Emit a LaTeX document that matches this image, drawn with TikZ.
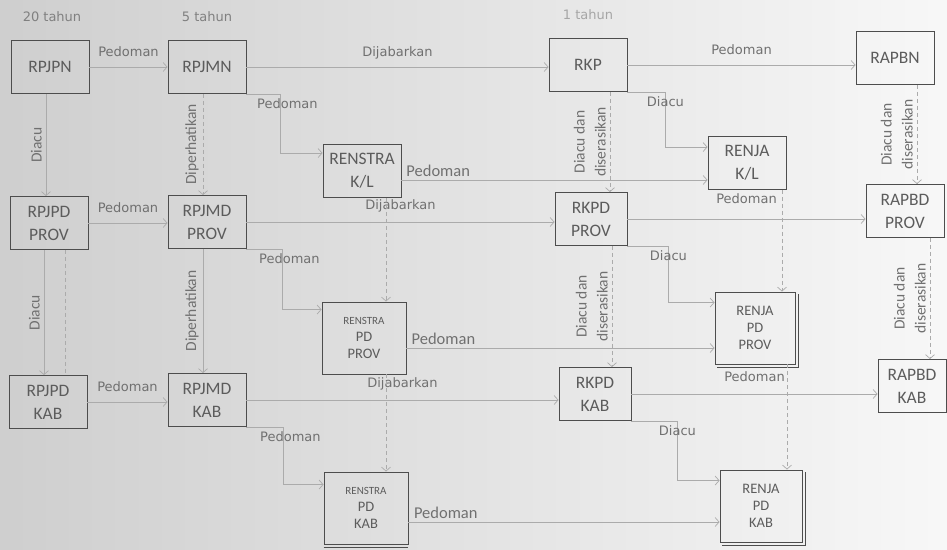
\documentclass[tikz,border=0pt]{standalone}
\usepackage{fontspec}
\setmainfont{Carlito}
\newfontfamily\lblfont{DejaVu Sans}
\usetikzlibrary{arrows.meta}

\definecolor{boxgray}{HTML}{4D4D4D}
\definecolor{txtgray}{HTML}{5C5C5C}
\definecolor{linegray}{HTML}{ABABAB}
\definecolor{lblgray}{HTML}{707070}

\tikzset{
    box/.style={draw=boxgray, line width=0.9pt, text=txtgray, align=center,
        minimum width=78pt, minimum height=53pt, inner sep=2pt,
        font=\fontsize{17.5}{23}\selectfont},
    bigbox/.style={box, minimum width=84pt, minimum height=72pt,
        font=\fontsize{14.5}{17}\selectfont},
    conn/.style={draw=linegray, line width=0.7pt},
    arr/.style={conn, -{Straight Barb[length=4pt,width=9pt]}},
    dsh/.style={dash pattern=on 4pt off 3pt},
    lbl/.style={text=lblgray, font=\lblfont\fontsize{13}{15}\selectfont},
    hl/.style={lbl, midway, anchor=base, yshift=#1},
    hl/.default=11pt,
    el/.style={lbl, anchor=base, yshift=-15pt},
    bl/.style={text=lblgray, pos=0.12, anchor=base, yshift=4pt,
        font=\fontsize{16.5}{18}\selectfont},
    vl/.style={text=lblgray, midway, rotate=90, anchor=south, align=center,
        inner sep=4pt, font=\fontsize{15.5}{21}\selectfont},
}

\begin{document}
\begin{tikzpicture}[x=1pt, y=1pt]
    % page background
    \shade[left color=black!19, right color=black!3] (0,0) rectangle (947,-549);
    \useasboundingbox (0,0) rectangle (947,-549);

    % period headings
    \node[lbl, text=black!50] at (52,-17) {20 tahun};
    \node[lbl, text=black!50] at (207,-17) {5 tahun};
    \node[lbl, text=black!35] at (588,-15) {1 tahun};

    % national level
    \node[box] (rpjpn) at (50,-67) {RPJPN};
    \node[box] (rpjmn) at (207,-67) {RPJMN};
    \node[box] (renstrakl) at (362,-171) {RENSTRA\\K/L};
    \node[box] (rkp) at (588,-65) {RKP};
    \node[box] (renjakl) at (747,-163) {RENJA\\K/L};
    \node[box] (rapbn) at (895,-58) {RAPBN};

    % province level
    \node[box] (rpjpdprov) at (49,-223) {RPJPD\\PROV};
    \node[box] (rpjmdprov) at (207,-222) {RPJMD\\PROV};
    \node[bigbox] (renstrapdprov) at (364,-338) {{\fontsize{11}{13}\selectfont RENSTRA}\\PD\\PROV};
    \node[box, minimum width=72pt] (rkpdprov) at (591,-219) {RKPD\\PROV};
    \node[bigbox, minimum width=80pt] (renjapdprov) at (755,-328) {RENJA\\PD\\PROV};
    \node[box] (rapbdprov) at (905,-211) {RAPBD\\PROV};

    % regency level
    \node[box] (rpjpdkab) at (48,-402) {RPJPD\\KAB};
    \node[box] (rpjmdkab) at (207,-400) {RPJMD\\KAB};
    \node[bigbox] (renstrapdkab) at (366,-508) {{\fontsize{11}{13}\selectfont RENSTRA}\\PD\\KAB};
    \node[box, minimum width=72pt] (rkpdkab) at (595,-394) {RKPD\\KAB};
    \node[bigbox, minimum width=82pt] (renjapdkab) at (761,-506) {RENJA\\PD\\KAB};
    \node[box, minimum width=68pt] (rapbdkab) at (912,-386) {RAPBD\\KAB};

    % stacked sheets behind some boxes
    \draw[boxgray, line width=0.9pt] ([shift={(2.5pt,-2.5pt)}]renjapdprov.north east) |- ([shift={(2.5pt,-2.5pt)}]renjapdprov.south west);
    \draw[boxgray, line width=0.9pt] ([shift={(2.5pt,-2.5pt)}]renjapdkab.north east) |- ([shift={(2.5pt,-2.5pt)}]renjapdkab.south west);
    \draw[boxgray, line width=0.9pt] ([yshift=-3pt]renstrapdkab.south west) -- ([yshift=-3pt]renstrapdkab.south east);

    % horizontal links, national
    \draw[arr] (rpjpn.east) -- (rpjpn.east -| rpjmn.west) node[hl] {Pedoman};
    \draw[arr] (rpjmn.east) -- (rpjmn.east -| rkp.west) node[hl] {Dijabarkan};
    \draw[arr] (rkp.east) -- (rkp.east -| rapbn.west) node[hl] {Pedoman};
    \draw[arr] (rpjmn.south east) -- ++(34,0) node[el, xshift=7pt] {Pedoman} |- ([yshift=-9pt]renstrakl.north west);
    \draw[arr] (rkp.south east) -- ++(38,0) node[el] {Diacu} |- ([yshift=-11pt]renjakl.north west);
    \draw[arr] ([yshift=-9pt]renstrakl.east) -- ([yshift=-9pt]renstrakl.east -| renjakl.west) node[bl] {Pedoman};

    % horizontal links, province
    \draw[arr] (rpjpdprov.east) -- (rpjpdprov.east -| rpjmdprov.west) node[hl] {Pedoman};
    \draw[arr] (rpjmdprov.east) -- (rpjmdprov.east -| rkpdprov.west) node[hl=13pt] {Dijabarkan};
    \draw[arr] (rkpdprov.east) -- (rkpdprov.east -| rapbdprov.west) node[hl=16pt] {Pedoman};
    \draw[arr] (rpjmdprov.south east) -- ++(36,0) node[el, xshift=7pt] {Pedoman} |- ([yshift=-8pt]renstrapdprov.north west);
    \draw[arr] (rkpdprov.south east) -- ++(41,0) node[el] {Diacu} |- ([yshift=-11pt]renjapdprov.north west);
    \draw[arr] ([yshift=-10pt]renstrapdprov.east) -- ([yshift=-10pt]renstrapdprov.east -| renjapdprov.west) node[bl] {Pedoman};

    % horizontal links, regency
    \draw[arr] (rpjpdkab.east) -- (rpjpdkab.east -| rpjmdkab.west) node[hl] {Pedoman};
    \draw[arr] (rpjmdkab.east) -- (rpjmdkab.east -| rkpdkab.west) node[hl=13pt] {Dijabarkan};
    \draw[arr] (rkpdkab.east) -- (rkpdkab.east -| rapbdkab.west) node[hl=13pt] {Pedoman};
    \draw[arr] (rpjmdkab.south east) -- ++(37,0) node[el, xshift=7pt] {Pedoman} |- ([yshift=-13pt]renstrapdkab.north west);
    \draw[arr] (rkpdkab.south east) -- ++(46,0) node[el] {Diacu} |- ([yshift=-11pt]renjapdkab.north west);
    \draw[arr] ([yshift=-14pt]renstrapdkab.east) -- ([yshift=-14pt]renstrapdkab.east -| renjapdkab.west) node[bl] {Pedoman};

    % vertical links, 20 and 5 years
    \draw[arr] ([xshift=-4pt]rpjpn.south) -- ([xshift=-4pt]rpjpn.south |- rpjpdprov.north) node[vl] {Diacu};
    \draw[arr] ([xshift=-5pt]rpjpdprov.south) -- ([xshift=-5pt]rpjpdprov.south |- rpjpdkab.north) node[vl] {Diacu};
    \draw[conn, dsh] ([xshift=16pt]rpjpdprov.south) -- ([xshift=16pt]rpjpdprov.south |- rpjpdkab.north);
    \draw[arr, dsh] ([xshift=-4pt]rpjmn.south) -- ([xshift=-4pt]rpjmn.south |- rpjmdprov.north) node[vl] {Diperhatikan};
    \draw[arr] ([xshift=-4pt]rpjmdprov.south) -- ([xshift=-4pt]rpjmdprov.south |- rpjmdkab.north) node[vl] {Diperhatikan};
    \draw[arr, dsh] ([xshift=24pt]renstrakl.south) -- ([xshift=24pt]renstrakl.south |- renstrapdprov.north);
    \draw[arr, dsh] ([xshift=22pt]renstrapdprov.south) -- ([xshift=22pt]renstrapdprov.south |- renstrapdkab.north);

    % vertical links, 1 year
    \draw[arr, dsh] ([xshift=22pt]rkp.south) -- ([xshift=22pt]rkp.south |- rkpdprov.north) node[vl] {Diacu dan\\diserasikan};
    \draw[arr, dsh] ([xshift=21pt]rkpdprov.south) -- ([xshift=21pt]rkpdprov.south |- rkpdkab.north) node[vl] {Diacu dan\\diserasikan};
    \draw[arr, dsh] ([xshift=35pt]renjakl.south) -- ([xshift=35pt]renjakl.south |- renjapdprov.north);
    \draw[arr, dsh] ([xshift=32pt]renjapdprov.south) -- ([xshift=32pt]renjapdprov.south |- renjapdkab.north);
    \draw[arr, dsh] ([xshift=22pt]rapbn.south) -- ([xshift=22pt]rapbn.south |- rapbdprov.north) node[vl] {Diacu dan\\diserasikan};
    \draw[arr, dsh] ([xshift=25pt]rapbdprov.south) -- ([xshift=25pt]rapbdprov.south |- rapbdkab.north) node[vl] {Diacu dan\\diserasikan};
\end{tikzpicture}
\end{document}
